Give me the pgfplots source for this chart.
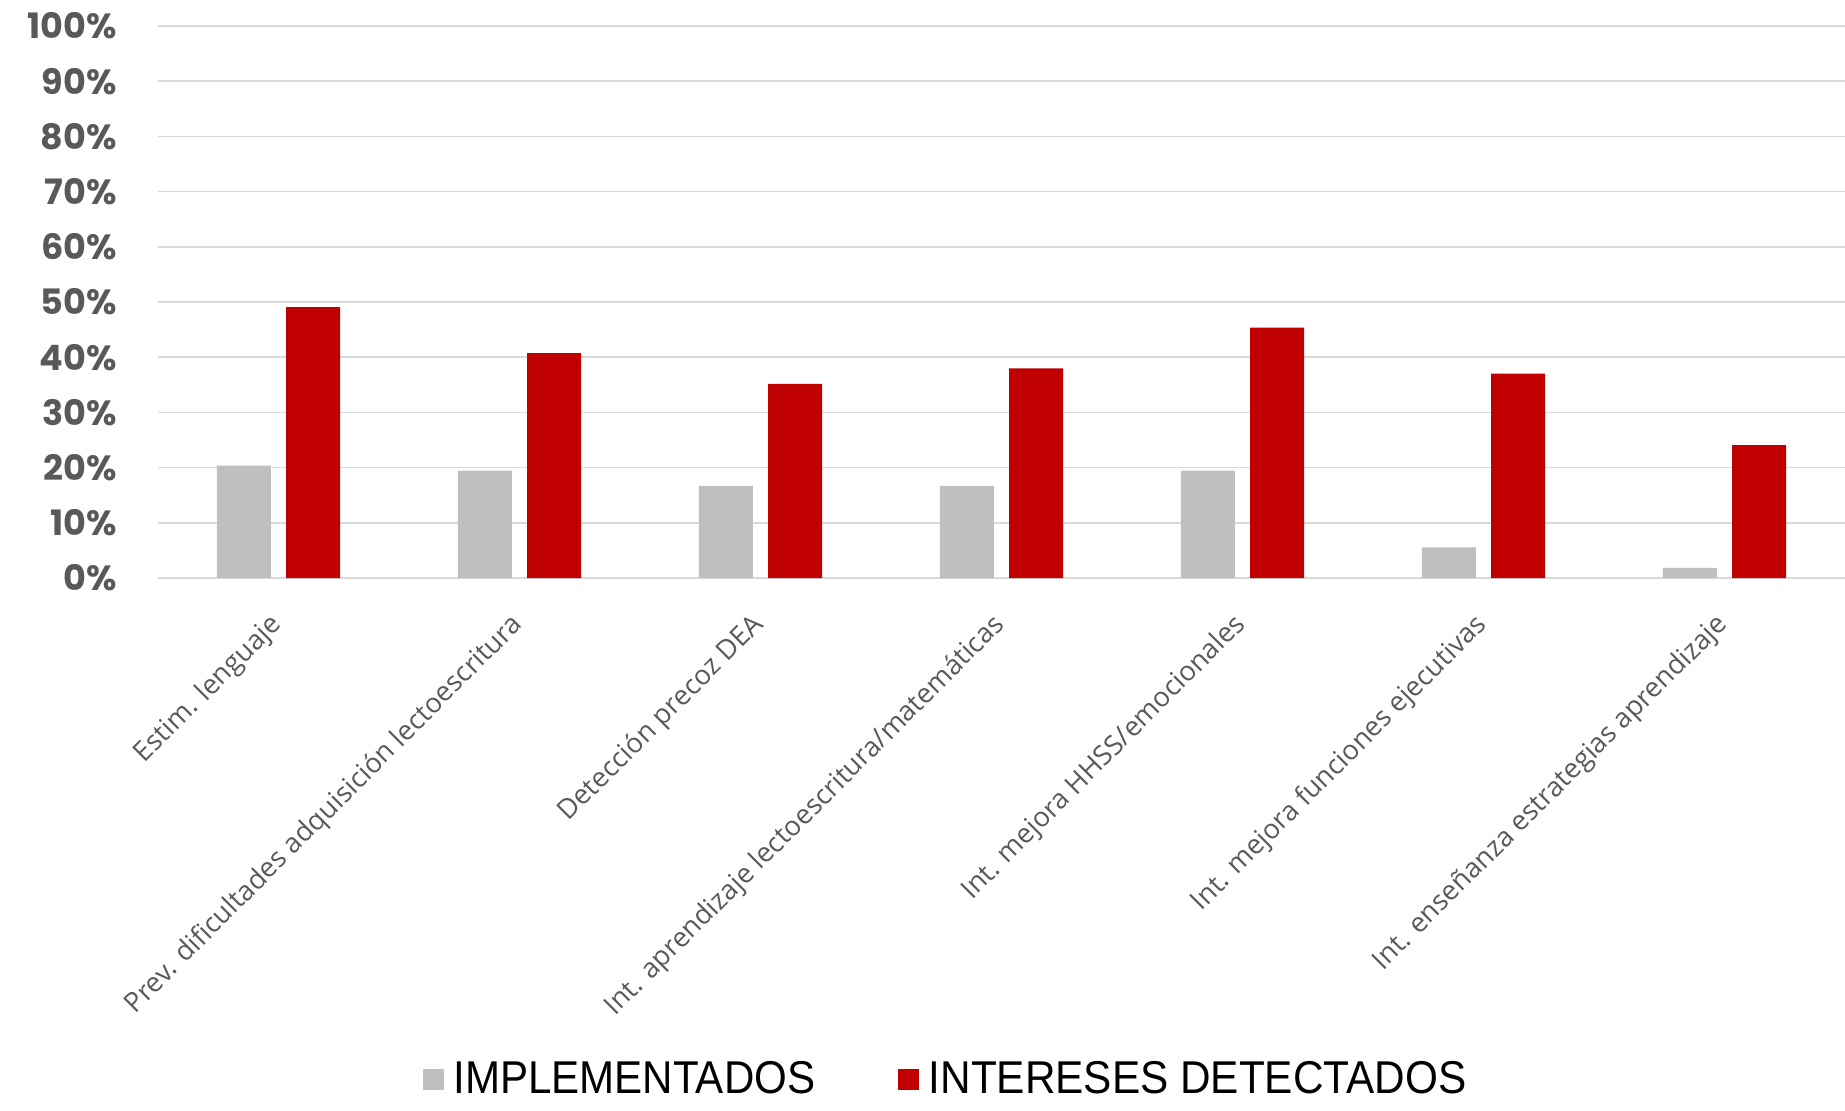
\documentclass[border=0pt]{standalone}
\usepackage{pgfplots}
\pgfplotsset{compat=1.18}
\usepackage{fontspec}
\setmainfont{Open Sans}
\newfontfamily\tickfont{Poppins}
\newfontfamily\legfont{Liberation Sans}
\definecolor{impl}{HTML}{BFBFBF}
\definecolor{inter}{HTML}{C00000}
\definecolor{txt}{HTML}{595959}
\definecolor{gridc}{HTML}{D9D9D9}
\begin{document}
\begin{tikzpicture}
\useasboundingbox (-63.2pt,-212.8pt) rectangle (674.8pt,231.2pt);
\begin{axis}[
  at={(0,0)}, anchor=south west,
  scale only axis,
  width=674.8pt, height=220.8pt,
  ybar=6.1pt, bar width=21.6pt,
  xmin=-0.5, xmax=6.5, ymin=0, ymax=100,
  axis line style={draw=none},
  ymajorgrids, grid style={gridc, line width=0.7pt},
  major tick length=0pt,
  ytick={0,10,...,100},
  /pgf/number format/assume math mode=true,
  yticklabel={\pgfmathprintnumber{\tick}\%},
  yticklabel style={text=txt, anchor=east, xshift=-13pt, font=\tickfont\bfseries\fontsize{14}{16}\selectfont},
  xtick={0,1,2,3,4,5,6},
  xticklabels={Estim. lenguaje, Prev. dificultades adquisición lectoescritura, Detección precoz DEA, Int. aprendizaje lectoescritura/matemáticas, Int. mejora HHSS/emocionales, Int. mejora funciones ejecutivas, Int. enseñanza estrategias aprendizaje},
  xticklabel style={rotate=45, anchor=north east, text=txt, font=\fontsize{10.9}{12}\selectfont, xshift=-12.2pt, yshift=-6.2pt, inner sep=0pt},
  legend style={at={(0.4677,-0.909)}, anchor=center, draw=none, fill=none, legend columns=2,
    font=\legfont\fontsize{18.4}{20}\selectfont,
    /tikz/every even column/.append style={column sep=31pt}},
  legend cell align=left,
  legend image code/.code={\fill[#1] (0pt,-4.2pt) rectangle (8.4pt,4.2pt);},
]
\addplot[fill=impl, draw=none] coordinates {(0,20.37) (1,19.44) (2,16.67) (3,16.67) (4,19.44) (5,5.56) (6,1.85)};
\addplot[fill=inter, draw=none] coordinates {(0,49.07) (1,40.74) (2,35.19) (3,37.96) (4,45.37) (5,37.04) (6,24.07)};
\legend{\hspace{2pt}\scalebox{0.915}[1]{IMPLEMENTADOS}, \hspace{2pt}\scalebox{0.92}[1]{INTERESES DETECTADOS}}
\end{axis}
\end{tikzpicture}
\end{document}
